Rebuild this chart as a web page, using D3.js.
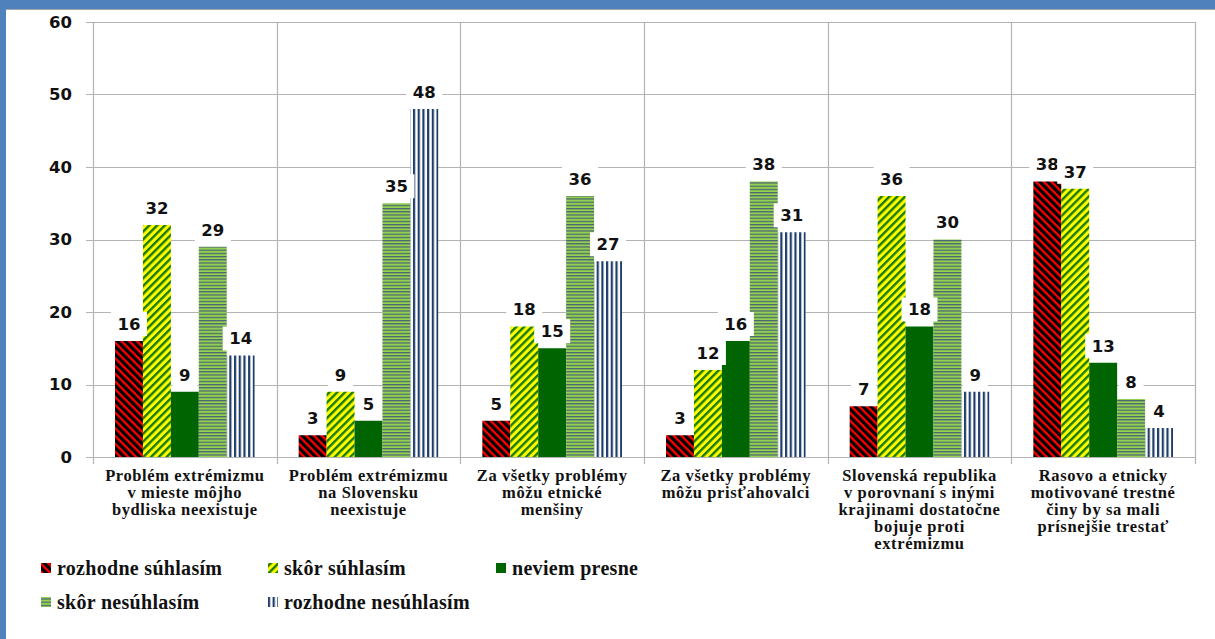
<!DOCTYPE html>
<html lang="sk">
<head>
<meta charset="UTF-8">
<title>Extrémizmus</title>
<script src="https://d3js.org/d3.v7.min.js"></script>
<style>
  * { margin: 0; padding: 0; }
  body { background: #fff; width: 1215px; height: 639px; overflow: hidden; }
  .tick-lbl { font-family: "DejaVu Sans", sans-serif; font-weight: bold; font-size: 16.5px; fill: #111; }
  .val-lbl { font-family: "DejaVu Sans", sans-serif; font-weight: bold; font-size: 16.5px; fill: #111; }
  .cat-lbl { font-family: "Liberation Serif", "Tinos", "Noto Serif", "FreeSerif", "DejaVu Serif", "Times New Roman", Times, serif; font-weight: bold; font-size: 16.5px; fill: #111; letter-spacing: 0.6px; }
  .leg-lbl { font-family: "Liberation Serif", "Tinos", "Noto Serif", "FreeSerif", "DejaVu Serif", "Times New Roman", Times, serif; font-weight: bold; font-size: 20px; fill: #111; letter-spacing: 0.3px; }
</style>
</head>
<body>
<svg id="chart" width="1215" height="639"></svg>
<script>
// dáta
const categories = [
  ["Problém extrémizmu", "v mieste môjho", "bydliska neexistuje"],
  ["Problém extrémizmu", "na Slovensku", "neexistuje"],
  ["Za všetky problémy", "môžu etnické", "menšiny"],
  ["Za všetky problémy", "môžu prisťahovalci"],
  ["Slovenská republika", "v porovnaní s inými", "krajinami dostatočne", "bojuje proti", "extrémizmu"],
  ["Rasovo a etnicky", "motivované trestné", "činy by sa mali", "prísnejšie trestať"]
];
const seriesNames = ["rozhodne súhlasím", "skôr súhlasím", "neviem presne", "skôr nesúhlasím", "rozhodne nesúhlasím"];
const rozhodneSuhlasim   = [16, 3, 5, 3, 7, 38];
const skorSuhlasim       = [32, 9, 18, 12, 36, 37];
const neviemPresne       = [9, 5, 15, 16, 18, 13];
const skorNesuhlasim     = [29, 35, 36, 38, 30, 8];
const rozhodneNesuhlasim = [14, 48, 27, 31, 9, 4];
const yTicks = [0, 10, 20, 30, 40, 50, 60];

const values = [rozhodneSuhlasim, skorSuhlasim, neviemPresne, skorNesuhlasim, rozhodneNesuhlasim];
const fills = ["url(#pRed)", "url(#pYellow)", "#006400", "url(#pLight)", "url(#pBlue)"];

const svg = d3.select("#chart");

// vzory
const defs = svg.append("defs");
function stripes(id, bg, fg, size, band, angle) {
  const p = defs.append("pattern").attr("id", id)
    .attr("patternUnits", "userSpaceOnUse")
    .attr("width", size).attr("height", size)
    .attr("patternTransform", `rotate(${angle})`);
  p.append("rect").attr("width", size).attr("height", size).attr("fill", bg);
  p.append("rect").attr("width", band).attr("height", size).attr("fill", fg);
}
stripes("pRed", "#ff0000", "#000000", 5.5, 3.2, -45);
stripes("pYellow", "#ffff00", "#1a7a00", 5.5, 2.4, 45);
stripes("pLight", "#92d050", "#4a6275", 3.2, 1.2, 90);
stripes("pBlue", "#ffffff", "#1f3d6b", 4.7, 2.2, 0);

// rámik
svg.append("rect").attr("x", 0).attr("y", 0).attr("width", 1215).attr("height", 9).attr("fill", "#4f81bd");
svg.append("line").attr("x1", 0).attr("x2", 1215).attr("y1", 9.5).attr("y2", 9.5).attr("stroke", "#a6a6a6");
svg.append("rect").attr("x", 0).attr("y", 0).attr("width", 6).attr("height", 639).attr("fill", "#4f81bd");

const plotL = 93, plotR = 1195, plotT = 22, plotB = 457;
const y = d3.scaleLinear().domain([0, 60]).range([plotB, plotT]);
const x0 = d3.scaleBand().domain(d3.range(categories.length)).range([plotL, plotR]);
const x1 = d3.scaleBand().domain(d3.range(seriesNames.length)).range([22, x0.bandwidth() - 22]);

// mriežka
const grid = svg.append("g");
grid.selectAll("line.h").data(yTicks).join("line")
  .attr("x1", plotL - 7).attr("x2", plotR)
  .attr("y1", d => Math.round(y(d)) + 0.5).attr("y2", d => Math.round(y(d)) + 0.5)
  .attr("stroke", "#b3b3b3").attr("stroke-width", 1.2);
grid.selectAll("line.v").data(d3.range(categories.length + 1)).join("line")
  .attr("x1", d => Math.round(plotL + d * x0.bandwidth()) + 0.5)
  .attr("x2", d => Math.round(plotL + d * x0.bandwidth()) + 0.5)
  .attr("y1", plotT).attr("y2", plotB + 7)
  .attr("stroke", "#b3b3b3").attr("stroke-width", 1.2);

svg.selectAll("text.tick-lbl").data(yTicks).join("text")
  .attr("class", "tick-lbl")
  .attr("x", 72).attr("y", d => y(d)).attr("dy", "0.36em")
  .attr("text-anchor", "end").text(d => d);

// stĺpce
const groups = svg.selectAll("g.cat").data(categories).join("g")
  .attr("class", "cat")
  .attr("transform", (d, i) => `translate(${x0(i)},0)`);

groups.each(function (c, ci) {
  const g = d3.select(this);
  values.forEach((vals, si) => {
    g.append("rect")
      .attr("x", x1(si)).attr("width", x1.bandwidth())
      .attr("y", y(vals[ci])).attr("height", plotB - y(vals[ci]))
      .attr("fill", fills[si]);
  });
});

// popisky hodnôt
groups.each(function (c, ci) {
  const g = d3.select(this);
  values.forEach((vals, si) => {
    const cx = x1(si) + x1.bandwidth() / 2;
    const cy = y(vals[ci]) - 17;
    const w = String(vals[ci]).length * 11 + 14;
    g.append("rect").attr("x", cx - w / 2).attr("y", cy - 12).attr("width", w).attr("height", 24).attr("fill", "#fff");
    g.append("text").attr("class", "val-lbl")
      .attr("x", cx).attr("y", cy).attr("dy", "0.36em")
      .attr("text-anchor", "middle").text(vals[ci]);
  });
});

// popisky kategórií
groups.each(function (lines) {
  d3.select(this).append("text").attr("class", "cat-lbl")
    .attr("text-anchor", "middle")
    .selectAll("tspan").data(lines).join("tspan")
    .attr("x", x0.bandwidth() / 2)
    .attr("y", (d, i) => 481 + i * 17)
    .text(d => d);
});

// legenda
const legPos = [[41, 568], [268, 568], [496, 568], [41, 602], [268, 602]];
const leg = svg.append("g");
seriesNames.forEach((name, i) => {
  const [lx, ly] = legPos[i];
  leg.append("rect").attr("x", lx).attr("y", ly - 5).attr("width", 10).attr("height", 10).attr("fill", fills[i]);
  leg.append("text").attr("class", "leg-lbl")
    .attr("x", lx + 16).attr("y", ly).attr("dy", "0.34em").text(name);
});
</script>
</body>
</html>
